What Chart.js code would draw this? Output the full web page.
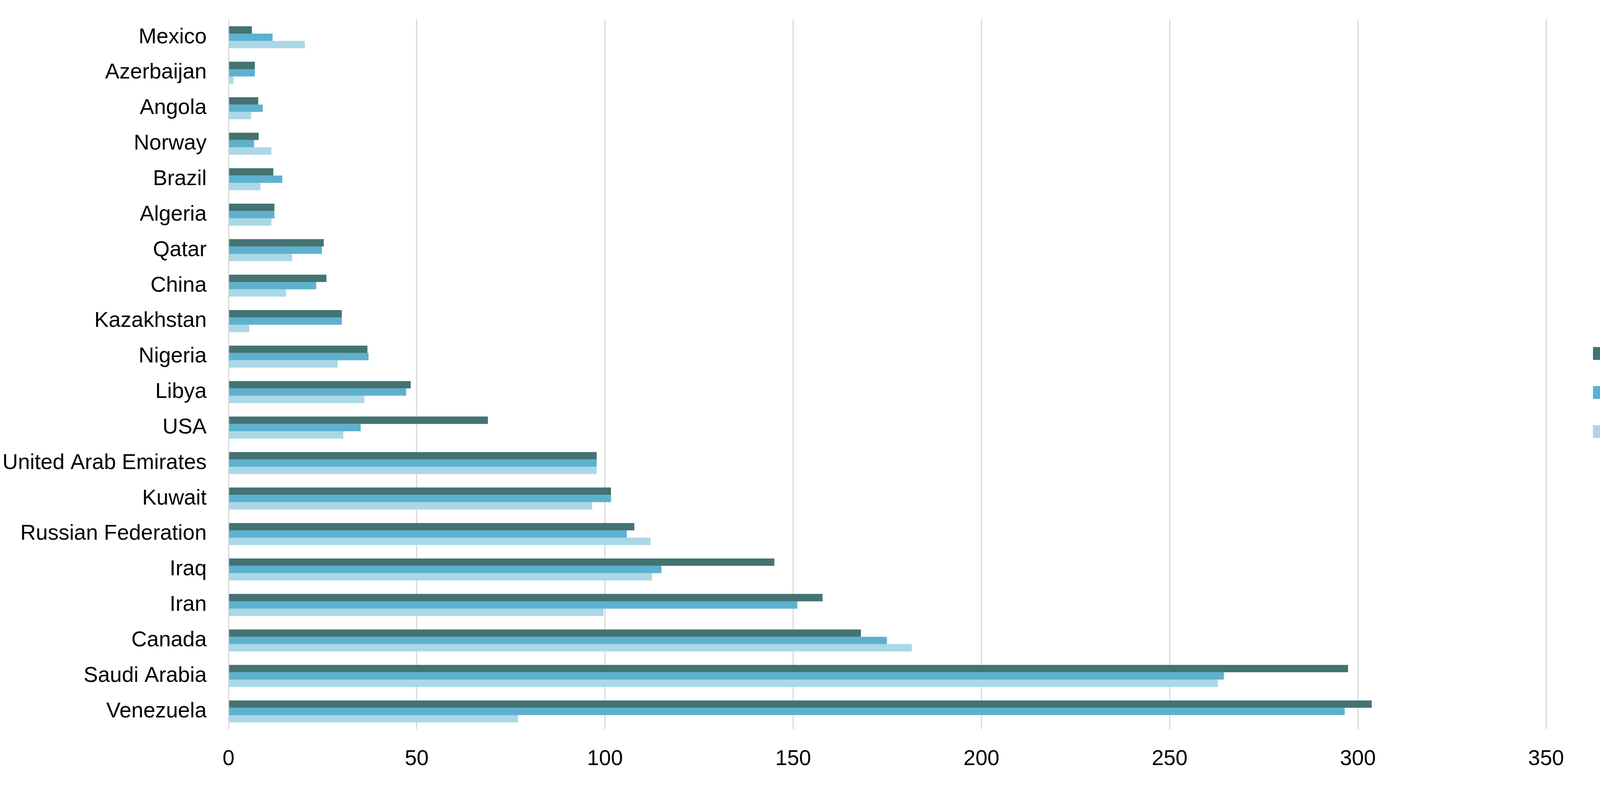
<!DOCTYPE html>
<html>
<head>
<meta charset="utf-8">
<title>Reserves by country</title>
<script src="https://cdn.jsdelivr.net/npm/chart.js@4"></script>
<style>
  html, body { margin: 0; padding: 0; background: #ffffff; overflow: hidden; }
  #mainChart { display: block; }
</style>
</head>
<body>
<canvas id="mainChart" width="4290" height="2010"></canvas>
<script>
// Categories, top to bottom
const countries = [
  "Mexico", "Azerbaijan", "Angola", "Norway", "Brazil", "Algeria", "Qatar",
  "China", "Kazakhstan", "Nigeria", "Libya", "USA", "United Arab Emirates",
  "Kuwait", "Russian Federation", "Iraq", "Iran", "Canada", "Saudi Arabia",
  "Venezuela",
];

const values2020 = [
  6.2, 7.0, 7.9, 8.0, 11.9, 12.2, 25.3, 26.0, 30.1, 36.9, 48.4, 68.9, 97.8,
  101.6, 107.8, 145.0, 157.8, 168.0, 297.4, 303.7,
];
const values2010 = [
  11.7, 7.0, 9.1, 6.8, 14.3, 12.2, 24.8, 23.3, 30.1, 37.2, 47.2, 35.1, 97.8,
  101.6, 105.8, 115.0, 151.1, 174.9, 264.4, 296.5,
];
const values2000 = [
  20.3, 1.3, 6.0, 11.4, 8.5, 11.4, 16.9, 15.3, 5.5, 29.0, 36.1, 30.5, 97.8,
  96.6, 112.1, 112.5, 99.6, 181.5, 262.8, 76.9,
];

const xTicks = [0, 50, 100, 150, 200, 250, 300, 350];

const fontFamily = '"Liberation Sans", Arial, sans-serif';
const fontSize = 55;

// Legend sits in a fixed-width column on the right, nudged like the original
const legendWidth = 332;
const legendShift = {
  id: "legendShift",
  afterLayout(chart) {
    const lg = chart.legend;
    lg.left += 75;
    lg.right += 75;
    lg.top -= 25;
    lg.bottom -= 25;
  },
};

const ctx = document.getElementById("mainChart").getContext("2d");
const mainChart = new Chart(ctx, {
  type: "bar",
  data: {
    labels: countries,
    datasets: [
      { label: "2020", data: values2020, backgroundColor: "#437372" },
      { label: "2010", data: values2010, backgroundColor: "#5db1cf" },
      { label: "2000", data: values2000, backgroundColor: "#aad8e6" },
    ],
  },
  options: {
    indexAxis: "y",
    responsive: false,
    devicePixelRatio: 1,
    animation: false,
    categoryPercentage: 0.62,
    barPercentage: 1,
    layout: {
      padding: { top: 50, right: 0, bottom: 0, left: 0 },
    },
    plugins: {
      tooltip: { enabled: false },
      legend: {
        position: "right",
        labels: {
          boxWidth: 33,
          boxHeight: 33,
          padding: 45,
          color: "#000000",
          font: { family: fontFamily, size: fontSize },
        },
      },
    },
    scales: {
      x: {
        min: 0,
        max: 350,
        afterBuildTicks: (axis) => {
          axis.ticks = xTicks.map((v) => ({ value: v }));
        },
        afterFit: (axis) => {
          axis.height = 143;
          axis.paddingLeft = 0;
          axis.paddingRight = 0;
        },
        grid: {
          color: "#d9d9d9",
          lineWidth: 3,
          drawTicks: false,
        },
        border: { display: false },
        ticks: {
          padding: 44,
          color: "#000000",
          font: { family: fontFamily, size: fontSize },
        },
      },
      y: {
        afterFit: (axis) => {
          axis.width = 585;
          axis.paddingTop = 0;
          axis.paddingBottom = 0;
        },
        grid: { display: false, drawTicks: false },
        border: { display: false },
        ticks: {
          padding: 56,
          color: "#000000",
          autoSkip: false,
          font: { family: fontFamily, size: fontSize },
        },
      },
    },
  },
  plugins: [legendShift],
});

// Fix the legend column width, then lay out again
const baseLegendFit = mainChart.legend.fit;
mainChart.legend.fit = function () {
  baseLegendFit.call(this);
  this.width = legendWidth;
};
mainChart.update();
</script>
</body>
</html>
